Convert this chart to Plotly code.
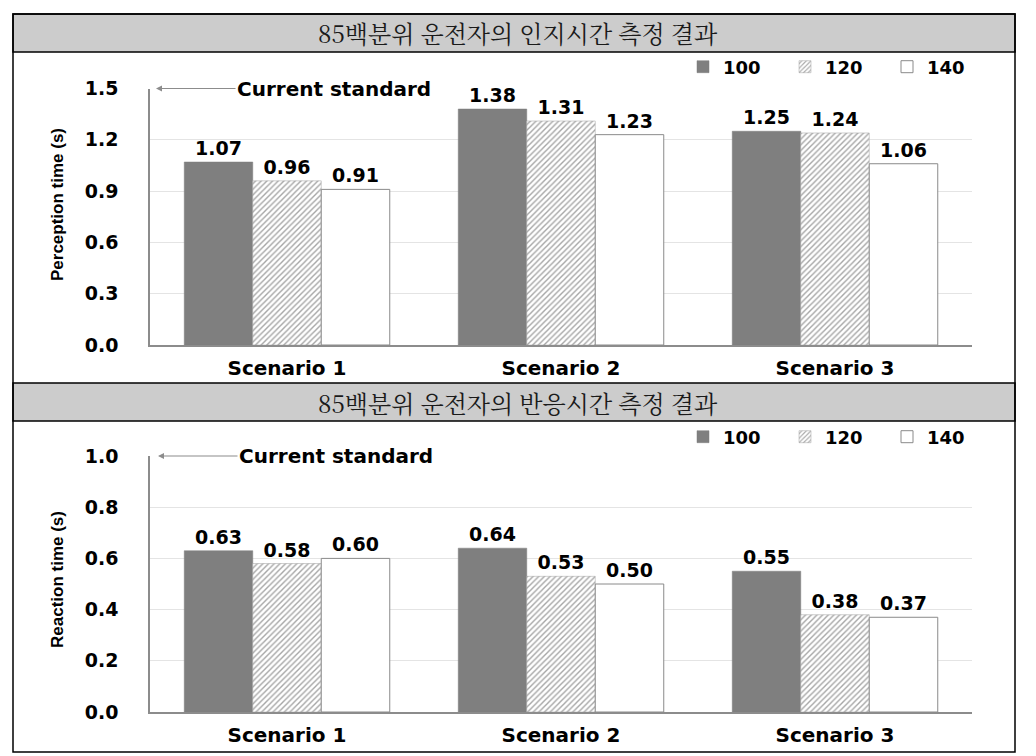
import plotly.graph_objects as go

W, H = 1036, 756
OFF = 8  # the page body margin shifts the figure by 8px

scenarios = ["Scenario 1", "Scenario 2", "Scenario 3"]
speeds = ["100", "120", "140"]

# 85th percentile perception time (s), one list per speed
perception_100 = [1.07, 1.38, 1.25]
perception_120 = [0.96, 1.31, 1.24]
perception_140 = [0.91, 1.23, 1.06]

# 85th percentile reaction time (s)
reaction_100 = [0.63, 0.64, 0.55]
reaction_120 = [0.58, 0.53, 0.38]
reaction_140 = [0.60, 0.50, 0.37]

top_title = "85백분위 운전자의 인지시간 측정 결과"
bottom_title = "85백분위 운전자의 반응시간 측정 결과"
top_ylabel = "Perception time (s)"
bottom_ylabel = "Reaction time (s)"
top_ticks = [0.0, 0.3, 0.6, 0.9, 1.2, 1.5]
bottom_ticks = [0.0, 0.2, 0.4, 0.6, 0.8, 1.0]
top_standard = 1.5
bottom_standard = 1.0

BOLD = "DejaVu Sans"
NARROW = "Liberation Sans"
KOR = "Noto Serif CJK KR, Batang, Noto Sans CJK KR"


# helpers: screen pixel -> paper fraction
def px_x(x):
    return (x - OFF) / W


def px_y(y):
    return 1 - (y - OFF) / H


def bar_style(i):
    if i == 0:
        return dict(color="#7f7f7f", line=dict(color="#7f7f7f", width=0.5))
    if i == 1:
        return dict(color="white", line=dict(color="#a0a0a0", width=0.5),
                    pattern=dict(shape="/", fgcolor="#4d4d4d", bgcolor="white",
                                 size=4, solidity=0.35))
    return dict(color="white", line=dict(color="#8a8a8a", width=1))


label_font = dict(family=BOLD, size=19, color="black", weight="bold")

fig = go.Figure()

for i, (sp, vals) in enumerate(zip(speeds, [perception_100, perception_120, perception_140])):
    fig.add_trace(go.Bar(
        x=scenarios, y=vals, name=sp, marker=bar_style(i),
        text=[f"{v:.2f}" for v in vals], textposition="outside", textfont=label_font,
        cliponaxis=False, xaxis="x", yaxis="y", legend="legend"))

for i, (sp, vals) in enumerate(zip(speeds, [reaction_100, reaction_120, reaction_140])):
    fig.add_trace(go.Bar(
        x=scenarios, y=vals, name=sp, marker=bar_style(i),
        text=[f"{v:.2f}" for v in vals], textposition="outside", textfont=label_font,
        cliponaxis=False, xaxis="x2", yaxis="y2", legend="legend2"))

xdom = [px_x(150), px_x(972)]

xcommon = dict(range=[-0.5, 2.5], showline=True, linecolor="#8c8c8c", linewidth=1.5,
               ticks="", tickfont=dict(family=BOLD, size=20, color="black", weight="bold"),
               ticklabelstandoff=4, showgrid=False, fixedrange=True, automargin=False)
ycommon = dict(showline=True, linecolor="#8c8c8c", linewidth=1.5, ticks="",
               tickfont=dict(family=BOLD, size=19, color="black", weight="bold"),
               ticklabelstandoff=26, showgrid=True, gridcolor="#e4e4e4", gridwidth=1,
               zeroline=False, fixedrange=True, automargin=False)

legend_common = dict(orientation="h", xanchor="left", yanchor="middle",
                     font=dict(family=BOLD, size=18, color="black", weight="bold"),
                     bgcolor="rgba(0,0,0,0)", itemclick=False, entrywidth=57)

fig.update_layout(
    width=W, height=H,
    margin=dict(l=0, r=0, t=0, b=0),
    paper_bgcolor="white", plot_bgcolor="white",
    barmode="group", bargap=0.25, bargroupgap=0,
    showlegend=True,
    xaxis=dict(domain=xdom, anchor="y", **xcommon),
    yaxis=dict(domain=[px_y(345), px_y(88.5)], anchor="x", range=[0, 1.5],
               tickvals=top_ticks, tickformat=".1f", **ycommon),
    xaxis2=dict(domain=xdom, anchor="y2", **xcommon),
    yaxis2=dict(domain=[px_y(712), px_y(456)], anchor="x2", range=[0, 1.0],
                tickvals=bottom_ticks, tickformat=".1f", **ycommon),
    legend=dict(x=px_x(683), y=px_y(67), **legend_common),
    legend2=dict(x=px_x(683), y=px_y(437), **legend_common),
)

# panel frame and grey header bands
shapes = [
    dict(type="rect", xref="paper", yref="paper", x0=px_x(13), x1=px_x(1015),
         y0=px_y(752), y1=px_y(14), line=dict(color="black", width=1.5), layer="above"),
    dict(type="rect", xref="paper", yref="paper", x0=px_x(13), x1=px_x(1015),
         y0=px_y(52), y1=px_y(14), fillcolor="#cccccc", line=dict(color="black", width=1.5),
         layer="below"),
    dict(type="rect", xref="paper", yref="paper", x0=px_x(13), x1=px_x(1015),
         y0=px_y(421), y1=px_y(383), fillcolor="#cccccc", line=dict(color="black", width=1.5),
         layer="below"),
]
fig.update_layout(shapes=shapes)

std_font = dict(family=BOLD, size=20, color="black", weight="bold")
title_font = dict(family=KOR, size=24, color="#1a1a1a")
ylab_font = dict(family=NARROW, size=17, color="black", weight="bold")
annotations = [
    dict(text=top_title, xref="paper", yref="paper", x=px_x(518), y=px_y(33),
         xanchor="center", yanchor="middle", showarrow=False, font=title_font),
    dict(text=bottom_title, xref="paper", yref="paper", x=px_x(518), y=px_y(402),
         xanchor="center", yanchor="middle", showarrow=False, font=title_font),
    dict(text=top_ylabel, xref="paper", yref="paper", x=px_x(57), y=px_y(205),
         xanchor="center", yanchor="middle", textangle=-90, showarrow=False, font=ylab_font),
    dict(text=bottom_ylabel, xref="paper", yref="paper", x=px_x(57), y=px_y(580),
         xanchor="center", yanchor="middle", textangle=-90, showarrow=False, font=ylab_font),
    dict(text="Current standard", xref="paper", yref="y", x=px_x(156), y=top_standard,
         showarrow=True, axref="pixel", ayref="pixel", ax=178, ay=0,
         arrowhead=2, arrowsize=1, arrowwidth=1.2, arrowcolor="#8c8c8c", font=std_font),
    dict(text="Current standard", xref="paper", yref="y2", x=px_x(158), y=bottom_standard,
         showarrow=True, axref="pixel", ayref="pixel", ax=178, ay=0,
         arrowhead=2, arrowsize=1, arrowwidth=1.2, arrowcolor="#8c8c8c", font=std_font),
]
fig.update_layout(annotations=annotations)

fig.write_html("out.html")
